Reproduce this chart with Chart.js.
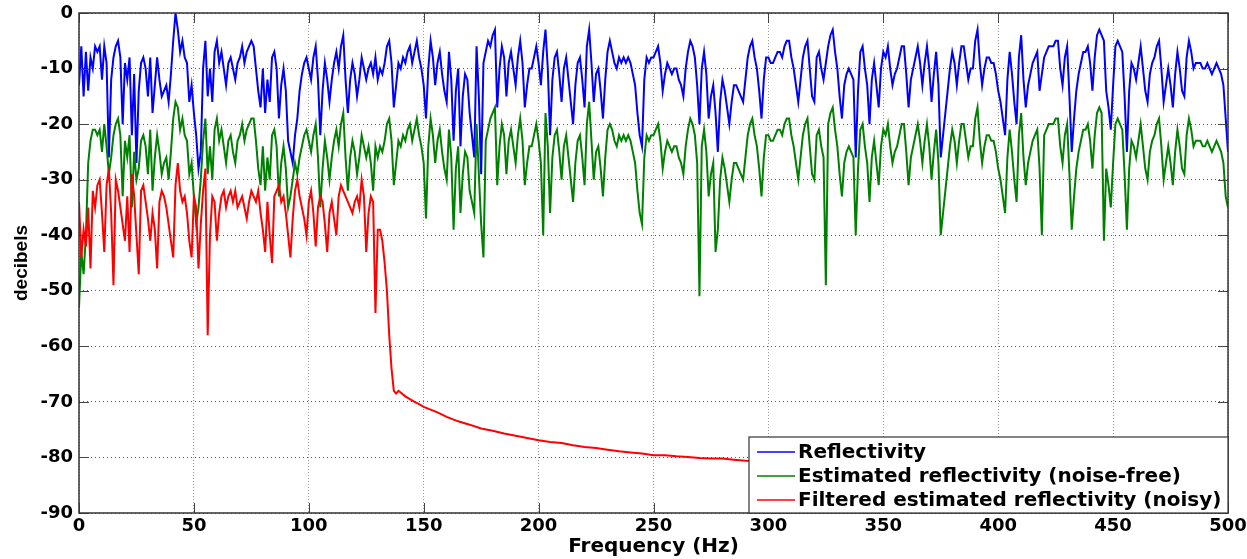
<!DOCTYPE html>
<html>
<head>
<meta charset="utf-8">
<script src="https://cdn.jsdelivr.net/npm/chart.js@4.4.1/dist/chart.umd.min.js"></script>
<style>
  html, body { margin: 0; padding: 0; background: #fff; }
  #wrap { position: relative; width: 1247px; height: 559px; }
</style>
</head>
<body>
<div id="wrap"><canvas id="spectrum" width="1247" height="559"></canvas></div>
<script>
// Amplitude spectra in dB, one sample per Hz from 0 to 500 Hz
const reflectivityDb = [
  -13,-6,-15,-7,-14,-8,-10,-6,-7,-6,       // 0
  -12,-6,-9,-26,-12,-8,-6,-5,-8,-20,
  -9,-12,-8,-22,-11,-27,-14,-9,-8,-10,
  -15,-8,-18,-13,-8,-12,-15,-14,-13,-16,
  -11,-5,0,-3,-7,-5,-8,-9,-16,-13,
  -18,-22,-28,-25,-10,-5,-15,-10,-16,-7,   // 50
  -5,-9,-7,-10,-13,-9,-8,-10,-12,-9,
  -8,-6,-9,-7,-6,-5,-6,-10,-14,-17,
  -10,-18,-12,-16,-8,-7,-10,-19,-13,-10,
  -14,-23,-25,-27,-22,-19,-14,-11,-9,-8,
  -10,-12,-8,-6,-12,-22,-14,-9,-12,-16,    // 100
  -12,-9,-7,-10,-6,-4,-12,-18,-12,-9,
  -11,-15,-12,-8,-10,-12,-10,-9,-11,-8,
  -12,-10,-11,-9,-6,-5,-9,-17,-13,-9,
  -10,-8,-9,-7,-6,-9,-7,-5,-8,-10,
  -13,-19,-10,-5,-8,-13,-9,-7,-11,-14,     // 150
  -16,-7,-12,-23,-14,-10,-24,-15,-11,-12,
  -18,-22,-26,-6,-15,-29,-9,-7,-5,-6,
  -4,-3,-17,-10,-6,-8,-15,-9,-7,-10,
  -13,-8,-5,-9,-17,-13,-10,-10,-8,-6,
  -9,-13,-7,-3,-10,-22,-12,-8,-7,-11,      // 200
  -16,-10,-8,-12,-16,-20,-13,-9,-8,-12,
  -17,-6,-3,-9,-16,-11,-10,-14,-19,-12,
  -7,-5,-7,-9,-10,-8,-9,-8,-9,-8,
  -9,-11,-13,-18,-22,-24,-12,-8,-9,-8,
  -8,-7,-6,-9,-14,-11,-9,-10,-11,-10,      // 250
  -10,-12,-13,-15,-10,-7,-5,-6,-8,-13,
  -20,-10,-7,-11,-19,-15,-13,-18,-25,-16,
  -12,-14,-17,-20,-16,-13,-13,-14,-15,-16,
  -12,-8,-6,-5,-8,-10,-14,-19,-12,-8,
  -8,-9,-9,-8,-7,-7,-8,-6,-5,-5,           // 300
  -8,-10,-13,-16,-12,-8,-6,-5,-10,-15,
  -16,-8,-7,-10,-12,-9,-6,-4,-3,-7,
  -10,-15,-19,-13,-11,-10,-11,-12,-26,-14,
  -7,-6,-10,-13,-20,-12,-9,-13,-17,-10,
  -7,-8,-6,-10,-13,-11,-10,-8,-6,-6,       // 350
  -11,-17,-12,-10,-8,-6,-9,-13,-9,-6,
  -10,-16,-11,-7,-13,-26,-22,-18,-14,-10,
  -7,-9,-13,-9,-6,-6,-9,-12,-10,-10,
  -5,-3,-9,-13,-10,-8,-8,-9,-9,-11,
  -14,-16,-19,-22,-12,-7,-11,-16,-20,-8,   // 400
  -4,-12,-17,-13,-11,-9,-8,-7,-14,-11,
  -8,-7,-6,-6,-6,-5,-5,-10,-13,-8,
  -6,-15,-25,-19,-14,-11,-9,-7,-7,-6,
  -9,-14,-8,-4,-3,-4,-5,-14,-17,-21,
  -13,-6,-5,-6,-7,-15,-25,-14,-9,-10,      // 450
  -12,-9,-6,-10,-14,-16,-11,-9,-8,-6,
  -5,-10,-16,-13,-10,-13,-17,-11,-7,-10,
  -14,-15,-8,-5,-7,-10,-9,-9,-9,-10,
  -10,-9,-10,-11,-10,-9,-10,-11,-13,-19,
  -25                                      // 500
];

const estimatedDb = [
  -53,-43,-47,-40,-27,-23,-21,-21,-22,-21, // 0
  -25,-20,-24,-29,-26,-22,-20,-19,-22,-33,
  -23,-26,-22,-35,-25,-30,-28,-23,-22,-24,
  -29,-21,-32,-26,-22,-25,-29,-27,-26,-30,
  -25,-19,-16,-17,-21,-19,-22,-23,-29,-27,
  -33,-38,-35,-30,-23,-19,-29,-24,-30,-21, // 50
  -19,-23,-21,-24,-27,-23,-22,-25,-27,-23,
  -22,-20,-23,-21,-20,-19,-19,-23,-28,-31,
  -24,-32,-26,-30,-22,-21,-24,-33,-27,-24,
  -28,-35,-33,-30,-27,-29,-26,-24,-22,-21,
  -23,-25,-22,-20,-26,-35,-28,-23,-26,-30, // 100
  -26,-23,-21,-24,-20,-18,-26,-32,-26,-23,
  -25,-29,-26,-22,-24,-26,-24,-27,-32,-24,
  -26,-24,-25,-23,-20,-19,-23,-31,-27,-23,
  -24,-22,-23,-21,-20,-23,-21,-19,-22,-24,
  -27,-37,-24,-19,-22,-27,-23,-21,-25,-28, // 150
  -30,-21,-26,-39,-28,-24,-36,-29,-25,-26,
  -32,-34,-36,-20,-29,-38,-44,-23,-21,-19,
  -18,-17,-31,-24,-20,-22,-29,-23,-21,-24,
  -27,-22,-19,-23,-31,-27,-24,-24,-22,-20,
  -23,-27,-40,-18,-24,-36,-26,-22,-21,-25, // 200
  -30,-24,-22,-26,-30,-34,-27,-23,-22,-26,
  -31,-20,-16,-23,-30,-25,-24,-28,-33,-26,
  -21,-20,-21,-23,-24,-22,-23,-22,-23,-22,
  -23,-25,-27,-32,-36,-38,-26,-22,-23,-22,
  -22,-21,-20,-23,-28,-25,-23,-24,-25,-24, // 250
  -24,-26,-27,-29,-24,-21,-19,-20,-22,-27,
  -51,-24,-21,-25,-33,-29,-27,-43,-39,-30,
  -26,-28,-31,-34,-30,-27,-27,-28,-29,-30,
  -26,-22,-20,-19,-22,-24,-28,-33,-26,-22,
  -22,-23,-23,-22,-21,-21,-22,-20,-19,-19, // 300
  -22,-24,-27,-30,-26,-22,-20,-19,-24,-29,
  -30,-22,-21,-24,-26,-49,-20,-18,-17,-21,
  -24,-29,-33,-27,-25,-24,-25,-26,-40,-28,
  -21,-20,-24,-27,-34,-26,-23,-27,-31,-24,
  -21,-22,-20,-24,-27,-25,-24,-22,-20,-20, // 350
  -25,-31,-26,-24,-22,-20,-23,-27,-23,-20,
  -24,-30,-25,-21,-27,-40,-36,-32,-28,-24,
  -21,-23,-27,-23,-20,-20,-23,-26,-24,-24,
  -19,-17,-23,-27,-24,-22,-22,-23,-23,-25,
  -28,-30,-33,-36,-26,-21,-25,-30,-34,-22, // 400
  -18,-26,-31,-27,-25,-23,-22,-21,-28,-40,
  -22,-21,-20,-20,-20,-19,-19,-24,-27,-22,
  -20,-29,-39,-33,-28,-25,-23,-21,-21,-20,
  -23,-28,-22,-18,-17,-18,-41,-28,-31,-35,
  -27,-20,-19,-20,-21,-29,-39,-28,-23,-24, // 450
  -26,-23,-20,-24,-28,-30,-25,-23,-22,-20,
  -19,-24,-30,-27,-24,-27,-31,-25,-21,-24,
  -28,-29,-22,-19,-21,-24,-23,-23,-23,-24,
  -24,-23,-24,-25,-24,-23,-24,-25,-27,-33,
  -35                                      // 500
];

// Filtered estimate: 1 Hz samples from 0 to 140 Hz ...
const filteredDb = [
  -34,-44,-39,-42,-35,-46,-32,-35,-31,-30, // 0
  -36,-43,-31,-28,-36,-49,-30,-32,-35,-38,
  -41,-33,-43,-29,-33,-40,-47,-32,-31,-34,
  -37,-41,-36,-39,-46,-34,-32,-33,-35,-38,
  -41,-44,-31,-27,-32,-34,-33,-36,-41,-44,
  -33,-35,-46,-38,-32,-28,-58,-40,-33,-34, // 50
  -41,-36,-33,-32,-35,-33,-32,-34,-32,-35,
  -34,-33,-35,-37,-34,-32,-33,-34,-32,-36,
  -39,-43,-34,-40,-45,-33,-32,-31,-34,-33,
  -36,-40,-44,-37,-32,-30,-33,-35,-37,-40,
  -34,-32,-36,-42,-35,-33,-34,-38,-43,-36, // 100
  -34,-37,-40,-33,-31,-32,-33,-34,-35,-36,
  -34,-33,-35,-30,-33,-43,-36,-33,-34,-54,
  -39,-39,-41,-45,-50,-58,-64,-68,-68.5,-68,
  -68.3                                    // 140
];
// ... then the smooth roll-off above the cut-off
const filteredTailHz = [142,144,146,148,150,153,156,160,165,170,175,180,185,190,195,200,
  205,210,215,220,225,230,235,240,245,250,255,260,265,270,275,280,285,290,295,300,
  310,320,330,340,350,375,400,425,450,475,500];
const filteredTailDb = [-69,-69.5,-70,-70.4,-70.9,-71.4,-71.9,-72.7,-73.5,-74.1,-74.8,-75.2,
  -75.7,-76.1,-76.5,-76.9,-77.2,-77.4,-77.8,-78.1,-78.3,-78.6,-78.9,-79.1,-79.3,-79.6,
  -79.6,-79.8,-79.9,-80.1,-80.2,-80.2,-80.4,-80.6,-80.7,-80.8,-81,-81.2,-81.3,-81.5,
  -81.6,-81.9,-82.1,-82.3,-82.4,-82.5,-82.6];

const seriesLabels = ['Reflectivity', 'Estimated reflectivity (noise-free)',
  'Filtered estimated reflectivity (noisy)'];
const seriesColors = ['#0000ff', '#008000', '#ff0000'];
const xTicks = [0, 50, 100, 150, 200, 250, 300, 350, 400, 450, 500];
const yTicks = [-90, -80, -70, -60, -50, -40, -30, -20, -10, 0];

const WIDE = "'DejaVu Sans', Verdana, sans-serif";
const NARROW = "'Liberation Sans', Arial, sans-serif";

const toPoints = arr => arr.map((v, hz) => ({ x: hz, y: v }));
const filteredPoints = toPoints(filteredDb).concat(
  filteredTailHz.map((hz, i) => ({ x: hz, y: filteredTailDb[i] })));

// box round the axes, inward ticks on all four sides, and the legend
const matlabAxes = {
  id: 'matlabAxes',
  afterDatasetsDraw(chart) {
    const { ctx, chartArea: a, scales: { x, y } } = chart;
    ctx.save();
    ctx.strokeStyle = '#444';
    ctx.lineWidth = 1;
    ctx.beginPath();
    xTicks.forEach(v => {
      const px = Math.round(x.getPixelForValue(v)) + 0.5;
      ctx.moveTo(px, a.bottom); ctx.lineTo(px, a.bottom - 10);
      ctx.moveTo(px, a.top); ctx.lineTo(px, a.top + 10);
    });
    yTicks.forEach(v => {
      const py = Math.round(y.getPixelForValue(v)) + 0.5;
      ctx.moveTo(a.left, py); ctx.lineTo(a.left + 10, py);
      ctx.moveTo(a.right, py); ctx.lineTo(a.right - 10, py);
    });
    ctx.stroke();
    ctx.strokeStyle = '#333';
    ctx.lineWidth = 1.5;
    ctx.strokeRect(a.left, a.top, a.right - a.left, a.bottom - a.top);

    // legend, bottom right inside the axes
    const lx = 749, ly = 437, lw = a.right - 749, lh = a.bottom - 437;
    ctx.fillStyle = '#fff';
    ctx.fillRect(lx, ly, lw, lh);
    ctx.strokeStyle = '#333';
    ctx.lineWidth = 1.2;
    ctx.strokeRect(lx, ly, lw, lh);
    ctx.font = 'bold 20px ' + WIDE;
    ctx.textBaseline = 'middle';
    ctx.textAlign = 'left';
    chart.data.datasets.forEach((ds, i) => {
      const rowY = ly + 15 + i * 24;
      ctx.strokeStyle = ds.borderColor;
      ctx.lineWidth = 1.5;
      ctx.beginPath();
      ctx.moveTo(lx + 8, rowY); ctx.lineTo(lx + 46, rowY);
      ctx.stroke();
      ctx.fillStyle = '#000';
      ctx.fillText(ds.label, lx + 49, rowY + 1);
    });
    ctx.restore();
  }
};

new Chart(document.getElementById('spectrum'), {
  type: 'line',
  data: {
    datasets: [
      { label: seriesLabels[0], data: toPoints(reflectivityDb), borderColor: seriesColors[0], order: 3 },
      { label: seriesLabels[1], data: toPoints(estimatedDb), borderColor: seriesColors[1], order: 2 },
      { label: seriesLabels[2], data: filteredPoints, borderColor: seriesColors[2], order: 1 }
    ]
  },
  options: {
    responsive: false,
    animation: false,
    parsing: false,
    layout: { padding: { top: 13, right: 19, left: 0, bottom: 0 } },
    elements: {
      line: { borderWidth: 2, tension: 0, fill: false },
      point: { radius: 0 }
    },
    plugins: {
      legend: { display: false },
      tooltip: { enabled: false }
    },
    scales: {
      x: {
        type: 'linear',
        min: 0,
        max: 500,
        afterBuildTicks: s => { s.ticks = xTicks.map(v => ({ value: v })); },
        afterFit: s => { s.height = 46; s.paddingLeft = 0; s.paddingRight = 0; },
        grid: { color: '#9a9a9a', lineWidth: 1, drawTicks: false },
        border: { display: false, dash: [1, 2] },
        ticks: {
          padding: 3,
          color: '#000',
          maxRotation: 0,
          font: { family: WIDE, size: 18, weight: 'bold' }
        },
        title: {
          display: true,
          text: 'Frequency (Hz)',
          color: '#000',
          padding: { top: 0, bottom: 0 },
          font: { family: WIDE, size: 20, weight: 'bold' }
        }
      },
      y: {
        type: 'linear',
        min: -90,
        max: 0,
        afterBuildTicks: s => { s.ticks = yTicks.map(v => ({ value: v })); },
        afterFit: s => { s.width = 79; s.paddingTop = 0; s.paddingBottom = 0; },
        grid: { color: '#555', lineWidth: 1, drawTicks: false },
        border: { display: false, dash: [1, 3] },
        ticks: {
          padding: 6,
          color: '#000',
          font: { family: WIDE, size: 18, weight: 'bold' }
        },
        title: {
          display: true,
          text: 'decibels',
          color: '#000',
          padding: { top: 10, bottom: 0 },
          font: { family: NARROW, size: 19, weight: 'bold' }
        }
      }
    }
  },
  plugins: [matlabAxes]
});
</script>
</body>
</html>
